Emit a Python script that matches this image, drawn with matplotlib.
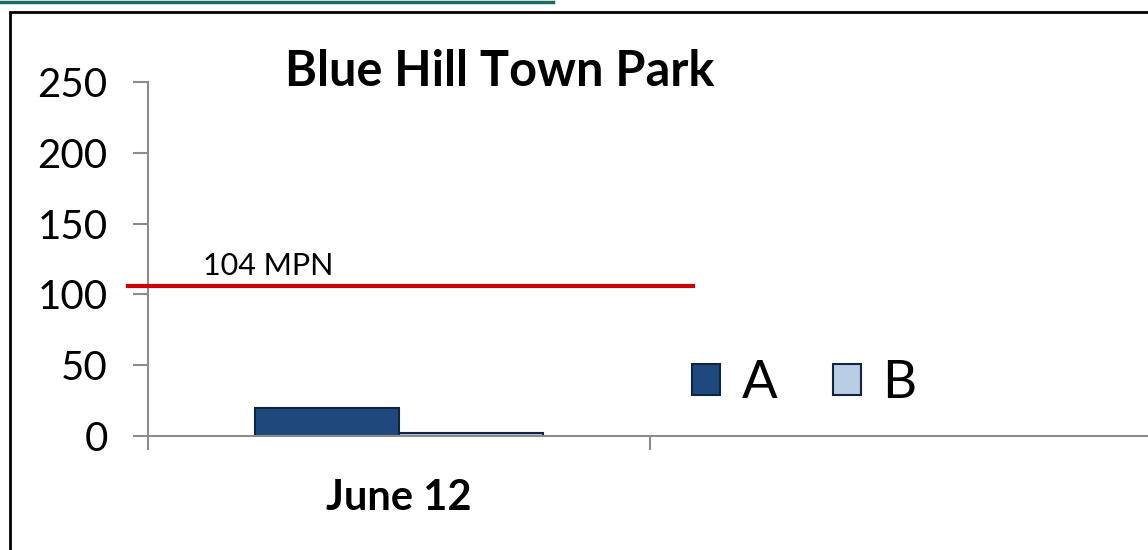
import numpy as np
import matplotlib
matplotlib.use("Agg")
import matplotlib.pyplot as plt
from matplotlib.patches import Rectangle, Patch
from matplotlib.lines import Line2D

plt.rcParams['font.family'] = ['Lato', 'DejaVu Sans']

# data
categories = ['June 12', '']
series_names = ['A', 'B']
values_a = [20, 0]
values_b = [2, 0]
threshold = 106
threshold_label = '104 MPN'
yticks = [0, 50, 100, 150, 200, 250]

colors = {'A': '#1F497D', 'B': '#B9CDE5'}
edge = '#10253F'
axis_gray = '#8C8C8C'

W, H = 1148, 550
fig = plt.figure(figsize=(W / 100, H / 100), dpi=100)
ax = fig.add_axes([148 / W, (H - 436) / H, 1004 / W, 354 / H])

x = np.arange(len(categories))
bw = 0.287
ax.bar(x[:1] - bw / 2, values_a[:1], width=bw, color=colors['A'], edgecolor=edge, linewidth=1.5)
ax.bar(x[:1] + bw / 2, values_b[:1], width=bw, color=colors['B'], edgecolor=edge, linewidth=1.5)

# threshold line
ax.plot([-0.54, 0.586], [threshold, threshold], color='#CC0000', lw=3, clip_on=False, zorder=3)
ax.text(-0.39, threshold + 4, threshold_label, fontsize=22, va='bottom', ha='left')

ax.set_xlim(-0.5, len(categories) - 0.5)
ax.set_ylim(0, 250)
ax.set_yticks(yticks)
ax.set_yticklabels([str(v) for v in yticks], fontsize=29)
ax.set_xticks(np.arange(len(categories) + 1) - 0.5)
ax.set_xticklabels([])
ax.set_xticks(x, labels=categories, minor=True, fontsize=30, fontweight='bold')
ax.tick_params(axis='x', which='major', length=10, width=1.5, color=axis_gray, direction='out')
ax.tick_params(axis='x', which='minor', length=0, pad=31)
ax.tick_params(axis='y', length=11, width=1.5, color=axis_gray, pad=18)

for s in ['top', 'right']:
    ax.spines[s].set_visible(False)
for s in ['left', 'bottom']:
    ax.spines[s].set_color(axis_gray)
    ax.spines[s].set_linewidth(1.5)

ax.set_title('Blue Hill Town Park', fontsize=35, fontweight='bold', x=0.35, y=1.0, pad=-3, loc='center')

handles = [Patch(facecolor=colors[n], edgecolor=edge, linewidth=1.5) for n in series_names]
ax.legend(handles, series_names, ncol=2, frameon=False, fontsize=38, borderpad=0,
          handlelength=0.53, handleheight=0.53, handletextpad=0.4, columnspacing=1.05,
          loc='center left', bbox_to_anchor=(518 / 1004, 0.147))

# outer frame and top rule
fig.add_artist(Rectangle((10 / W, -0.1), 1.2, 1 - 12 / H + 0.1, transform=fig.transFigure,
                         fill=False, edgecolor='black', lw=2))
fig.add_artist(Line2D([0, 553 / W], [1 - 2 / H, 1 - 2 / H], transform=fig.transFigure,
                      color='#1B6B63', lw=2.5))

fig.savefig('out.png', dpi=100)
